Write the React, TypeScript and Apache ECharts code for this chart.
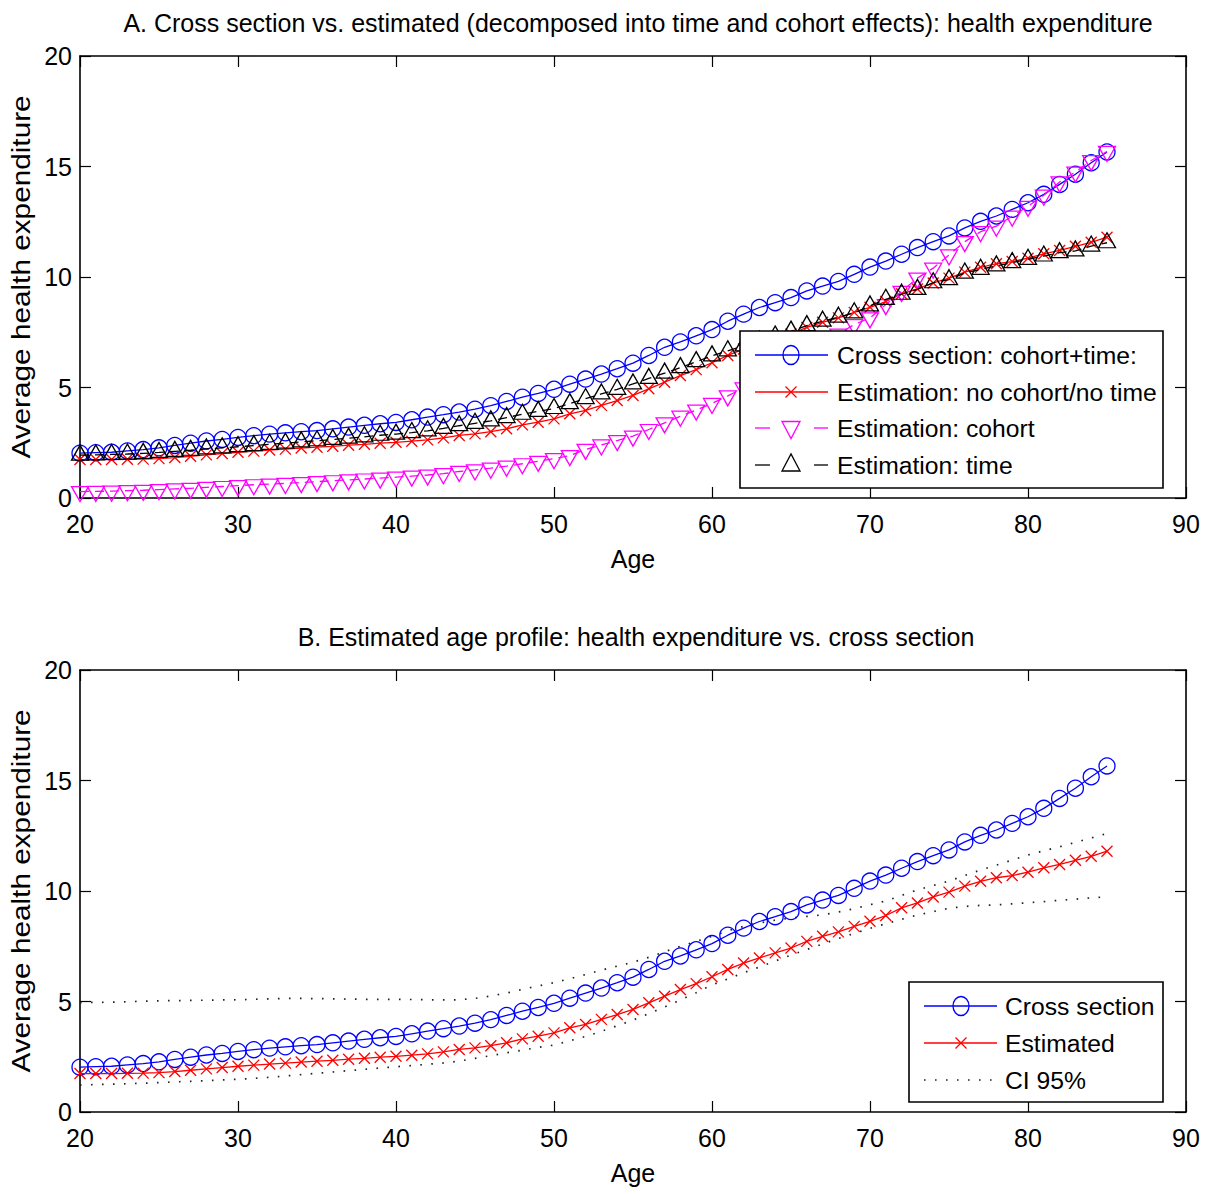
import React, { useEffect, useRef } from "react";
import * as echarts from "echarts";

// ---------- data ----------
const ages = [
  20, 21, 22, 23, 24, 25, 26, 27, 28, 29, 30, 31, 32, 33, 34, 35, 36, 37, 38, 39, 40, 41, 42,
  43, 44, 45, 46, 47, 48, 49, 50, 51, 52, 53, 54, 55, 56, 57, 58, 59, 60, 61, 62, 63, 64, 65,
  66, 67, 68, 69, 70, 71, 72, 73, 74, 75, 76, 77, 78, 79, 80, 81, 82, 83, 84, 85,
];

const crossSection = [
  2.03, 2.05, 2.07, 2.13, 2.19, 2.27, 2.38, 2.48, 2.58, 2.65, 2.74, 2.82, 2.89, 2.95, 3.0, 3.05,
  3.13, 3.21, 3.29, 3.36, 3.42, 3.54, 3.66, 3.77, 3.89, 4.02, 4.18, 4.37, 4.56, 4.73, 4.92, 5.15,
  5.38, 5.61, 5.85, 6.1, 6.45, 6.82, 7.06, 7.34, 7.62, 8.0, 8.32, 8.62, 8.84, 9.07, 9.37, 9.59,
  9.8, 10.12, 10.45, 10.72, 11.03, 11.33, 11.6, 11.86, 12.22, 12.52, 12.76, 13.06, 13.36, 13.74,
  14.19, 14.65, 15.17, 15.66,
];

const estimated = [
  1.74, 1.74, 1.74, 1.75, 1.76, 1.78, 1.83, 1.89, 1.95, 2.01, 2.07, 2.12, 2.17, 2.21, 2.26, 2.3,
  2.34, 2.39, 2.43, 2.48, 2.52, 2.57, 2.63, 2.72, 2.83, 2.9, 3.0, 3.13, 3.31, 3.43, 3.58, 3.81,
  3.96, 4.19, 4.41, 4.64, 4.94, 5.24, 5.54, 5.81, 6.12, 6.45, 6.74, 6.97, 7.2, 7.42, 7.72, 7.95,
  8.15, 8.4, 8.63, 8.89, 9.24, 9.46, 9.73, 9.95, 10.22, 10.44, 10.6, 10.7, 10.85, 11.05, 11.2,
  11.39, 11.57, 11.8,
];

const cohortEst = [
  0.29, 0.3, 0.31, 0.33, 0.35, 0.38, 0.41, 0.44, 0.48, 0.52, 0.56, 0.6, 0.63, 0.66, 0.7, 0.74,
  0.78, 0.82, 0.86, 0.9, 0.94, 0.99, 1.04, 1.1, 1.2, 1.27, 1.35, 1.44, 1.55, 1.66, 1.78, 1.92,
  2.2, 2.4, 2.6, 2.8, 3.1, 3.4, 3.7, 3.98, 4.28, 4.62, 4.98, 5.35, 5.75, 6.15, 6.6, 7.0, 7.42,
  7.85, 8.15, 8.75, 9.35, 9.95, 10.4, 11.0, 11.6, 12.05, 12.3, 12.75, 13.2, 13.7, 14.3, 14.75,
  15.27, 15.68,
];

const timeEst = [
  1.94, 1.95, 1.97, 1.99, 2.02, 2.06, 2.11, 2.16, 2.22, 2.27, 2.32, 2.37, 2.43, 2.48, 2.54, 2.59,
  2.65, 2.71, 2.77, 2.84, 2.89, 2.96, 3.04, 3.15, 3.27, 3.38, 3.49, 3.64, 3.79, 3.92, 4.05, 4.27,
  4.5, 4.71, 4.92, 5.16, 5.41, 5.65, 5.9, 6.17, 6.43, 6.66, 6.88, 7.1, 7.33, 7.55, 7.8, 8.0,
  8.18, 8.38, 8.69, 8.99, 9.22, 9.44, 9.74, 9.88, 10.18, 10.35, 10.5, 10.65, 10.8, 10.95, 11.1,
  11.18, 11.4, 11.55,
];

const ciUpper = [
  4.95, 4.96, 4.97, 4.99, 5.01, 5.03, 5.04, 5.05, 5.06, 5.07, 5.08, 5.1, 5.12, 5.14, 5.14, 5.13,
  5.12, 5.11, 5.1, 5.1, 5.1, 5.09, 5.08, 5.07, 5.08, 5.14, 5.25, 5.38, 5.55, 5.7, 5.85, 6.03,
  6.22, 6.42, 6.6, 6.78, 7.0, 7.25, 7.5, 7.72, 7.95, 8.2, 8.4, 8.55, 8.68, 8.78, 8.85, 8.92,
  9.05, 9.2, 9.38, 9.55, 9.8, 10.05, 10.25, 10.45, 10.7, 10.95, 11.17, 11.4, 11.63, 11.82, 12.0,
  12.2, 12.4, 12.6,
];

const ciLower = [
  1.22, 1.24, 1.26, 1.28, 1.3, 1.33, 1.36, 1.39, 1.42, 1.45, 1.48, 1.52, 1.57, 1.63, 1.69, 1.75,
  1.81, 1.87, 1.93, 1.99, 2.05, 2.1, 2.16, 2.22, 2.3, 2.43, 2.55, 2.68, 2.8, 2.92, 3.03, 3.22,
  3.42, 3.65, 3.9, 4.16, 4.45, 4.75, 5.07, 5.4, 5.75, 6.02, 6.3, 6.56, 6.83, 7.1, 7.35, 7.6,
  7.85, 8.08, 8.31, 8.52, 8.72, 8.91, 9.07, 9.22, 9.3, 9.35, 9.37, 9.42, 9.47, 9.52, 9.58, 9.63,
  9.69, 9.74,
];

const xTicks = [20, 30, 40, 50, 60, 70, 80, 90];
const yTicks = [0, 5, 10, 15, 20];

const titleA =
  "A. Cross section vs. estimated (decomposed into time and cohort effects): health expenditure";
const titleB = "B. Estimated age profile: health expenditure vs. cross section";
const yName = "Average health expenditure";
const xName = "Age";
const legendA = [
  "Cross section: cohort+time:",
  "Estimation: no cohort/no time",
  "Estimation: cohort",
  "Estimation: time",
];
const legendB = ["Cross section", "Estimated", "CI 95%"];

// ---------- styling ----------
const FONT = '"Liberation Sans", Arial, Helvetica, sans-serif';
const BLUE = "#0000ff";
const RED = "#ff0000";
const MAG = "#ff00ff";
const BLK = "#000000";
const LW = 1.3;
const CROSS = "path://M0,0L10,10M10,0L0,10";
const DASH = [9, 6];
const DOT = [1.6, 9.4];

const GRID_LEFT = 80;
const GRID_W = 1106;
const GRID_H = 442;
const TOPS = [56, 670];

const pairs = (v: number[]) => ages.map((a, i) => [a, v[i]]);

function App() {
  const ref = useRef<HTMLDivElement>(null);

  useEffect(() => {
    if (!ref.current) return;
    const chart = echarts.init(ref.current, undefined, { renderer: "svg" });

    const xMin = xTicks[0];
    const xMax = xTicks[xTicks.length - 1];
    const xInt = xTicks[1] - xTicks[0];
    const yMin = yTicks[0];
    const yMax = yTicks[yTicks.length - 1];
    const yInt = yTicks[1] - yTicks[0];

    const axisLine = { show: true, onZero: false, lineStyle: { color: "#000", width: 1.6 } };
    const tick = { show: true, inside: true, length: 11, lineStyle: { color: "#000", width: 1.2 } };
    const label = { color: "#000", fontSize: 25, fontFamily: FONT };

    const xAxes: any[] = [];
    const yAxes: any[] = [];
    [0, 1].forEach((g) => {
      xAxes.push({
        gridIndex: g, type: "value", position: "bottom", min: xMin, max: xMax, interval: xInt,
        axisLine, axisTick: tick, splitLine: { show: false },
        axisLabel: { ...label, margin: 13 },
        name: xName, nameLocation: "middle", nameGap: 48,
        nameTextStyle: { color: "#000", fontSize: 25, fontFamily: FONT },
      });
      xAxes.push({
        gridIndex: g, type: "value", position: "top", min: xMin, max: xMax, interval: xInt,
        axisLine, axisTick: tick, splitLine: { show: false }, axisLabel: { show: false },
      });
      yAxes.push({
        gridIndex: g, type: "value", position: "left", min: yMin, max: yMax, interval: yInt,
        axisLine, axisTick: tick, splitLine: { show: false },
        axisLabel: { ...label, margin: 8 },
      });
      yAxes.push({
        gridIndex: g, type: "value", position: "right", min: yMin, max: yMax, interval: yInt,
        axisLine, axisTick: tick, splitLine: { show: false }, axisLabel: { show: false },
      });
    });

    const circleSeries = (g: number, name: string, data: number[]) => ({
      name, type: "line", xAxisIndex: g * 2, yAxisIndex: g * 2, data: pairs(data),
      symbol: "circle", symbolSize: 16,
      itemStyle: { color: "rgba(0,0,0,0)", borderColor: BLUE, borderWidth: LW },
      lineStyle: { color: BLUE, width: LW, type: "solid" },
      z: 2,
    });
    const crossSeries = (g: number, name: string, data: number[]) => ({
      name, type: "line", xAxisIndex: g * 2, yAxisIndex: g * 2, data: pairs(data),
      symbol: CROSS, symbolSize: 11,
      itemStyle: { color: "none", borderColor: RED, borderWidth: LW },
      lineStyle: { color: RED, width: LW, type: "solid" },
      z: 3,
    });

    const series: any[] = [
      circleSeries(0, legendA[0], crossSection),
      crossSeries(0, legendA[1], estimated),
      {
        name: legendA[2], type: "line", xAxisIndex: 0, yAxisIndex: 0, data: pairs(cohortEst),
        symbol: "triangle", symbolRotate: 180, symbolSize: [17, 15], symbolOffset: [0, 2.5],
        itemStyle: { color: "rgba(0,0,0,0)", borderColor: MAG, borderWidth: LW },
        lineStyle: { color: MAG, width: LW, type: DASH },
        z: 4,
      },
      {
        name: legendA[3], type: "line", xAxisIndex: 0, yAxisIndex: 0, data: pairs(timeEst),
        symbol: "triangle", symbolSize: [17, 15], symbolOffset: [0, -2.5],
        itemStyle: { color: "rgba(0,0,0,0)", borderColor: BLK, borderWidth: LW },
        lineStyle: { color: BLK, width: LW, type: DASH },
        z: 5,
      },
      circleSeries(1, legendB[0], crossSection),
      crossSeries(1, legendB[1], estimated),
      {
        name: legendB[2], type: "line", xAxisIndex: 2, yAxisIndex: 2, data: pairs(ciUpper),
        symbol: "none", lineStyle: { color: "#222", width: 1.7, type: DOT }, z: 2,
      },
      {
        name: legendB[2] + " lower", type: "line", xAxisIndex: 2, yAxisIndex: 2, data: pairs(ciLower),
        symbol: "none", lineStyle: { color: "#222", width: 1.7, type: DOT }, z: 2,
      },
    ];

    // ---------- legends, titles & y-axis names as graphics ----------
    const Z = 100;
    const txt = (x: number, y: number, text: string, size: number, align = "left") => ({
      type: "text", x, y, z: Z,
      style: { text, fill: "#000", font: `${size}px ${FONT}`, textAlign: align, textVerticalAlign: "middle" },
    });
    const seg = (x1: number, x2: number, y: number, color: string, dash?: number[]) => ({
      type: "line", z: Z,
      shape: { x1, y1: y, x2, y2: y },
      style: { stroke: color, lineWidth: LW, lineDash: dash || null },
    });
    const circ = (cx: number, cy: number) => ({
      type: "ellipse", z: Z + 1, shape: { cx, cy, rx: 8, ry: 9.5 },
      style: { fill: "none", stroke: BLUE, lineWidth: LW },
    });
    const cross = (cx: number, cy: number) => [
      { type: "line", z: Z + 1, shape: { x1: cx - 5.5, y1: cy - 5.5, x2: cx + 5.5, y2: cy + 5.5 }, style: { stroke: RED, lineWidth: LW } },
      { type: "line", z: Z + 1, shape: { x1: cx - 5.5, y1: cy + 5.5, x2: cx + 5.5, y2: cy - 5.5 }, style: { stroke: RED, lineWidth: LW } },
    ];
    const tri = (cx: number, cy: number, down: boolean, color: string) => {
      const c = down ? cy + 2 : cy - 2.5;
      const pts = down
        ? [[cx - 9, c - 8.5], [cx + 9, c - 8.5], [cx, c + 8.5]]
        : [[cx - 9, c + 8.5], [cx + 9, c + 8.5], [cx, c - 8.5]];
      return { type: "polygon", z: Z + 1, shape: { points: pts }, style: { fill: "none", stroke: color, lineWidth: LW } };
    };

    const LEG_FS = 24.7;
    const aX = 740, aY = 331, aW = 423, aH = 157;
    const aRows = [355, 392, 428, 465];
    const aL1 = 755, aL2 = 828, aM = 791, aT = 837;
    const gA: any[] = [
      { type: "rect", z: Z - 1, shape: { x: aX, y: aY, width: aW, height: aH }, style: { fill: "#fff", stroke: "#000", lineWidth: 1.6 } },
      seg(aL1, aL2, aRows[0], BLUE), circ(aM, aRows[0]),
      seg(aL1, aL2, aRows[1], RED), ...cross(aM, aRows[1]),
      seg(aL1, aL1 + 15, aRows[2], MAG), seg(aL2 - 14, aL2, aRows[2], MAG), tri(aM, aRows[2], true, MAG),
      seg(aL1, aL1 + 15, aRows[3], BLK), seg(aL2 - 14, aL2, aRows[3], BLK), tri(aM, aRows[3], false, BLK),
      ...legendA.map((t, i) => txt(aT, aRows[i], t, LEG_FS)),
    ];

    const bX = 909, bY = 982, bW = 254, bH = 120;
    const bRows = [1006, 1043, 1080];
    const bL1 = 924, bL2 = 997, bM = 961, bT = 1005;
    const gB: any[] = [
      { type: "rect", z: Z - 1, shape: { x: bX, y: bY, width: bW, height: bH }, style: { fill: "#fff", stroke: "#000", lineWidth: 1.6 } },
      seg(bL1, bL2, bRows[0], BLUE), circ(bM, bRows[0]),
      seg(bL1, bL2, bRows[1], RED), ...cross(bM, bRows[1]),
      { type: "line", z: Z, shape: { x1: bL1, y1: bRows[2], x2: bL2, y2: bRows[2] }, style: { stroke: "#222", lineWidth: 1.7, lineDash: DOT } },
      ...legendB.map((t, i) => txt(bT, bRows[i], t, LEG_FS)),
    ];

    const titles = [txt(638, 23, titleA, 25, "center"), txt(636, 637, titleB, 25, "center")];

    const yNames = TOPS.map((t) => ({
      type: "text", x: 21, y: t + GRID_H / 2, z: Z, rotation: Math.PI / 2, scaleX: 1.19, scaleY: 1,
      style: { text: yName, fill: "#000", font: `25px ${FONT}`, textAlign: "center", textVerticalAlign: "middle" },
    }));

    chart.setOption({
      animation: false,
      backgroundColor: "#fff",
      grid: TOPS.map((t) => ({ left: GRID_LEFT, top: t, width: GRID_W, height: GRID_H, containLabel: false })),
      xAxis: xAxes,
      yAxis: yAxes,
      series,
      graphic: { elements: [...titles, ...yNames, ...gA, ...gB] },
    });

    return () => chart.dispose();
  }, []);

  return (
    <div
      ref={ref}
      style={{ position: "absolute", left: 0, top: 0, width: 1210, height: 1194, background: "#fff" }}
    />
  );
}

export default App;
